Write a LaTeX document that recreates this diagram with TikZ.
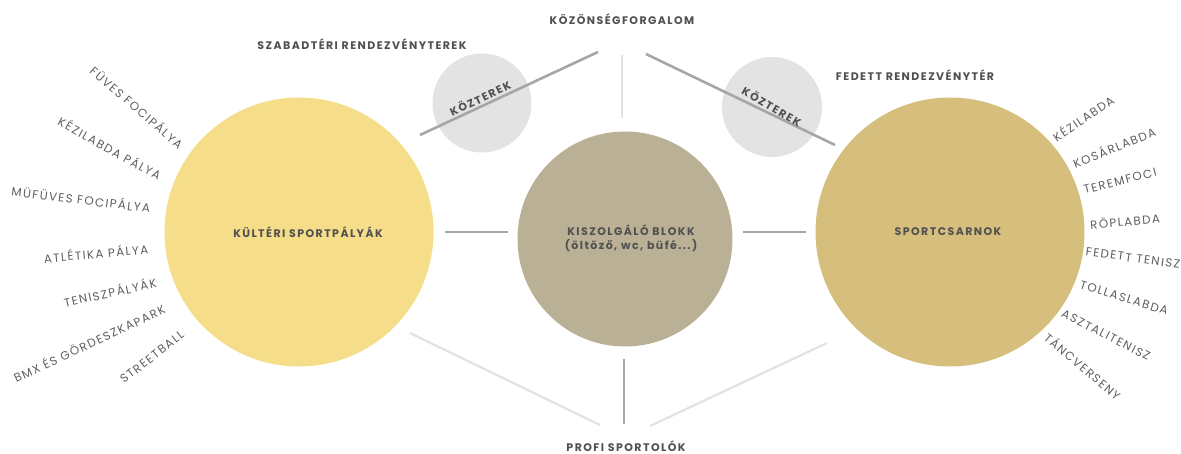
\documentclass[tikz,border=0pt]{standalone}
\usepackage{fontspec}
\setmainfont{Poppins}[LetterSpace=12]
\newfontfamily\labfont{Poppins}[LetterSpace=12]
\newfontfamily\headfont{Poppins}[LetterSpace=13]
\definecolor{cyel}{HTML}{F6DD8A}
\definecolor{cbeige}{HTML}{B9B095}
\definecolor{cgold}{HTML}{D6BF7C}
\definecolor{cgrey}{HTML}{E3E3E3}
\definecolor{cdark}{HTML}{A6A6A6}
\definecolor{clight}{HTML}{E2E2E2}
\definecolor{ctxt}{HTML}{5E5E5E}
\definecolor{chead}{HTML}{505050}
\begin{document}
\begin{tikzpicture}[x=1pt,y=-1pt,
  bub/.style={circle,inner sep=0pt,draw=none},
  lab/.style={text=ctxt,font=\labfont\fontsize{11.8}{13}\selectfont,inner sep=0pt},
  head/.style={text=chead,font=\headfont\bfseries\fontsize{11}{13}\selectfont,inner sep=0pt},
  darkline/.style={draw=cdark,line width=2.6pt},
  lightline/.style={draw=clight,line width=2.2pt}]
\useasboundingbox (0,0) rectangle (1181,454);
% circles
\node[bub,fill=cgrey,minimum size=99pt] (kl) at (482,103) {};
\node[bub,fill=cgrey,minimum size=100pt] (kr) at (772,107) {};
\node[bub,fill=cyel,minimum size=269pt] (kult) at (299,232) {};
\node[bub,fill=cbeige,minimum size=215pt] (kisz) at (625,239) {};
\node[bub,fill=cgold,minimum size=269pt] (csar) at (950,232) {};
% line endpoints
\coordinate (a1) at (420,135); \coordinate (a2) at (598,52);
\coordinate (b1) at (622,55); \coordinate (b2) at (622,118);
\coordinate (c1) at (646,54); \coordinate (c2) at (835,145);
\coordinate (d1) at (445,232); \coordinate (d2) at (508,232);
\coordinate (e1) at (743,232); \coordinate (e2) at (806,232);
\coordinate (f1) at (410,333); \coordinate (f2) at (600,425);
\coordinate (g1) at (624,359); \coordinate (g2) at (624,424);
\coordinate (h1) at (650,426); \coordinate (h2) at (827,343);
\draw[darkline] (a1) -- (a2);
\draw[lightline] (b1) -- (b2);
\draw[darkline] (c1) -- (c2);
\draw[darkline] (d1) -- (d2);
\draw[darkline] (e1) -- (e2);
\draw[lightline] (f1) -- (f2);
\draw[darkline] (g1) -- (g2);
\draw[lightline] (h1) -- (h2);
% headings
\node[head] (t1) at (622,19) {KÖZÖNSÉGFORGALOM};
\node[head] (t2) at (362,44) {SZABADTÉRI RENDEZVÉNYTEREK};
\node[head] (t3) at (915,75) {FEDETT RENDEZVÉNYTÉR};
\node[head] (t4) at (626,446) {PROFI SPORTOLÓK};
\node[head,rotate=26] (kt1) at (480,98) {KÖZTEREK};
\node[head,rotate=-30] (kt2) at (772,106) {KÖZTEREK};
\node[head] (kt3) at (308,232) {KÜLTÉRI SPORTPÁLYÁK};
\node[head,align=center,font=\headfont\bfseries\fontsize{11}{14}\selectfont] (kt4) at (631,238) {KISZOLGÁLÓ BLOKK\\(öltöző, wc, büfé...)};
\node[head] (kt5) at (948,232) {SPORTCSARNOK};
% left labels
\node[lab,rotate=-41] at (137,107) {FÜVES FOCIPÁLYA};
\node[lab,rotate=-29] at (110,148) {KÉZILABDA PÁLYA};
\node[lab,rotate=-7] at (81,199) {MÜFÜVES FOCIPÁLYA};
\node[lab,rotate=5] at (96,253) {ATLÉTIKA PÁLYA};
\node[lab,rotate=12] at (110,292) {TENISZPÁLYÁK};
\node[lab,rotate=25] at (89,343) {BMX ÉS GÖRDESZKAPARK};
\node[lab,rotate=38] at (152,357) {STREETBALL};
% right labels
\node[lab,rotate=34] at (1083,118) {KÉZILABDA};
\node[lab,rotate=22] at (1114,147) {KOSÁRLABDA};
\node[lab,rotate=14] at (1120,181) {TEREMFOCI};
\node[lab,rotate=5] at (1125,221) {RÖPLABDA};
\node[lab,rotate=-8] at (1133,258) {FEDETT TENISZ};
\node[lab,rotate=-17] at (1124,298) {TOLLASLABDA};
\node[lab,rotate=-27] at (1106,335) {ASZTALITENISZ};
\node[lab,rotate=-40] at (1083,366) {TÁNCVERSENY};
\end{tikzpicture}
\end{document}
